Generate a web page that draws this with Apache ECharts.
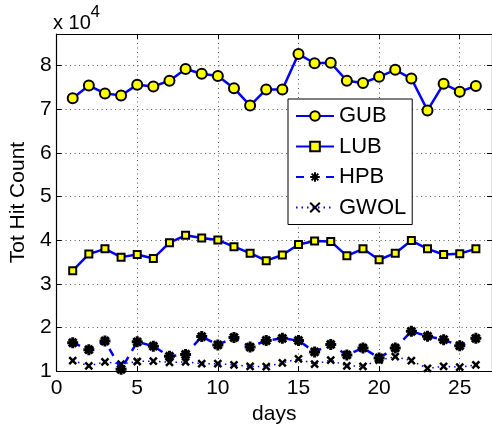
<!DOCTYPE html>
<html>
<head>
<meta charset="utf-8">
<script src="https://cdn.jsdelivr.net/npm/echarts@6/dist/echarts.min.js"></script>
<style>
html,body{margin:0;padding:0;background:#fff;}
#chart{width:492px;height:430px;}
</style>
</head>
<body>
<div id="chart"></div>
<script>
const days = [1,2,3,4,5,6,7,8,9,10,11,12,13,14,15,16,17,18,19,20,21,22,23,24,25,26];
const GUB  = [72500,75400,73600,73100,75600,75200,76500,79200,78100,77600,74800,70800,74500,74500,82600,80500,80600,76500,76000,77400,79000,77000,69700,75800,74000,75300];
const LUB  = [33000,36800,38000,36100,36700,35800,39400,41100,40500,40000,38500,37000,35300,36600,39000,39800,39700,36400,38000,35500,37000,39900,38000,36700,36900,38000];
const HPB  = [16500,14900,16900,10400,16700,15700,13400,13800,17900,16000,17700,15500,17000,17500,17000,14400,16100,13700,15300,13000,15300,19100,18000,17200,15800,17500];
const GWOL = [12400,11200,12100,11600,12200,12300,12000,12100,11700,11700,11400,11100,11000,11900,12800,11600,12500,11200,11100,12500,13300,12400,10600,11100,10900,11400];
const seriesNames = ['GUB','LUB','HPB','GWOL'];
const xTicks = {min:0, max:27, interval:5};
const yTicks = {min:10000, max:87200, interval:10000, scale:10000};

const FONT = 'Liberation Sans, Arial, Helvetica, sans-serif';
const BLUE = '#0000ff';
const pairs = arr => days.map((d,i)=>[d, arr[i]]);
const asterisk = 'path://M0,-1L0,1M-1,0L1,0M-0.7,-0.7L0.7,0.7M-0.7,0.7L0.7,-0.7';
const cross = 'path://M-1,-1L1,1M-1,1L1,-1';

const chart = echarts.init(document.getElementById('chart'), null, {renderer:'canvas'});
const grid = {left:53.5, top:34, width:440, height:340, containLabel:false};
const gridLine = {show:true, lineStyle:{color:'#555', type:[1,3.5], width:1}};
const axLine = {show:true, onZero:false, lineStyle:{color:'#000', width:1.2}};

chart.setOption({
  animation:false,
  backgroundColor:'#fff',
  grid: grid,
  xAxis: [{
    type:'value', min:xTicks.min, max:xTicks.max, interval:xTicks.interval,
    position:'bottom',
    axisLine:axLine,
    axisTick:{show:true, inside:true, length:5, lineStyle:{color:'#000'}},
    splitLine:gridLine,
    axisLabel:{fontFamily:FONT, fontSize:21, color:'#000', margin:7, showMaxLabel:false},
    name:'days', nameLocation:'middle', nameGap:30,
    nameTextStyle:{fontFamily:FONT, fontSize:21, color:'#000'}
  },{
    type:'value', min:xTicks.min, max:xTicks.max, interval:xTicks.interval,
    position:'top',
    axisLine:axLine,
    axisTick:{show:true, inside:true, length:5, lineStyle:{color:'#000'}},
    splitLine:{show:false},
    axisLabel:{show:false}
  }],
  yAxis: [{
    type:'value', min:yTicks.min, max:yTicks.max, interval:yTicks.interval,
    position:'left',
    axisLine:axLine,
    axisTick:{show:true, inside:true, length:5, lineStyle:{color:'#000'}},
    splitLine:gridLine,
    axisLabel:{fontFamily:FONT, fontSize:21, color:'#000', margin:5, showMaxLabel:false,
      formatter: v => String(v / yTicks.scale)},
    name:'Tot Hit Count', nameLocation:'middle', nameGap:25,
    nameTextStyle:{fontFamily:FONT, fontSize:21, color:'#000'}
  },{
    type:'value', min:yTicks.min, max:yTicks.max, interval:yTicks.interval,
    position:'right',
    axisLine:axLine,
    axisTick:{show:true, inside:true, length:5, lineStyle:{color:'#000'}},
    splitLine:{show:false},
    axisLabel:{show:false}
  }],
  legend: {
    orient:'vertical', left:288, top:99,
    padding:[6,6,6,7], itemGap:8.5,
    itemWidth:38, itemHeight:12,
    backgroundColor:'#fff', borderColor:'#000', borderWidth:1, borderRadius:0,
    textStyle:{fontFamily:FONT, fontSize:22, color:'#000', padding:[0,0,0,0]},
    data: seriesNames
  },
  graphic: [
    {type:'text', left:53, top:13, style:{text:'x 10', font:'20px ' + FONT, fill:'#000'}},
    {type:'text', left:90.5, top:4, style:{text:'4', font:'17px ' + FONT, fill:'#000'}}
  ],
  series: [
    {name:seriesNames[0], type:'line', data:pairs(GUB), symbol:'circle', symbolSize:10,
     lineStyle:{color:BLUE, width:2.5}, itemStyle:{color:'#ffff00', borderColor:'#000', borderWidth:2}, z:3},
    {name:seriesNames[1], type:'line', data:pairs(LUB), symbol:'rect', symbolSize:7,
     lineStyle:{color:BLUE, width:2.5}, itemStyle:{color:'#ffff00', borderColor:'#000', borderWidth:2}, z:3},
    {name:seriesNames[2], type:'line', data:pairs(HPB), symbol:asterisk, symbolSize:11,
     lineStyle:{color:BLUE, width:2.5, type:[8,7]}, itemStyle:{color:'#000', borderColor:'#000', borderWidth:3}, z:4},
    {name:seriesNames[3], type:'line', data:pairs(GWOL), symbol:cross, symbolSize:7,
     lineStyle:{color:BLUE, width:1.5, type:[1.5,4]}, itemStyle:{color:'#000', borderColor:'#000', borderWidth:2.5}, z:3}
  ]
});
</script>
</body>
</html>
